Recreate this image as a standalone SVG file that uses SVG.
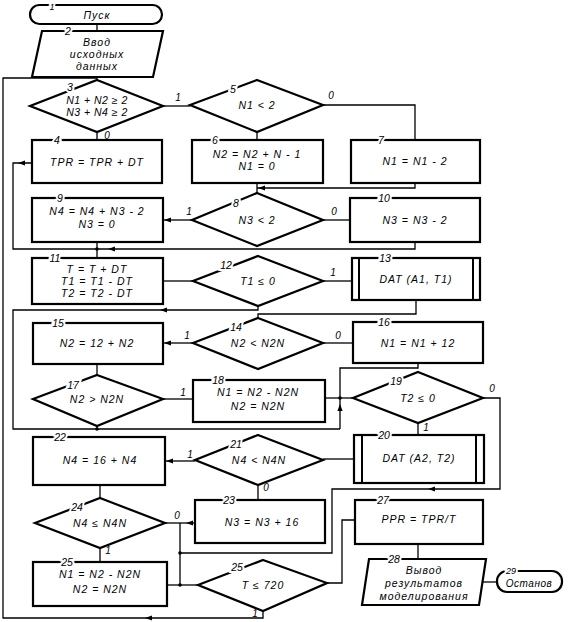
<svg xmlns="http://www.w3.org/2000/svg" xmlns:xlink="http://www.w3.org/1999/xlink" width="573" height="622" viewBox="0 0 573 622">
<style>
.b{fill:#fff;stroke:#000;stroke-width:2.2}
.bi{fill:none;stroke:#000;stroke-width:2}
.c{fill:none;stroke:#000;stroke-width:1.3}
.t{font-family:"Liberation Sans",Arial,sans-serif;font-style:italic;font-size:10.5px;text-anchor:middle;letter-spacing:1px;fill:#000}
.n{font-family:"Liberation Sans",Arial,sans-serif;font-style:italic;font-size:10.5px;text-anchor:middle;fill:#000;stroke:#fff;stroke-width:4;paint-order:stroke}
.y{font-family:"Liberation Sans",Arial,sans-serif;font-style:italic;font-size:10px;text-anchor:middle;fill:#000}
</style>
<defs>
<path id="ah" d="M0,0 L-7,-2.6 L-7,2.6 Z" fill="#000"/>
</defs>
<g id="connectors">
<path class="c" d="M97,24 V31"/>
<path class="c" d="M97,77 V80"/>
<path class="c" d="M163,106 H190"/>
<path class="c" d="M97,132 V140"/>
<path class="c" d="M257,132 V140"/>
<path class="c" d="M323,105 H415 V140"/>
<path class="c" d="M415,183 V188 H257"/>
<path class="c" d="M257,183 V193"/>
<path class="c" d="M192,220 H163"/>
<path class="c" d="M323,220 H350"/>
<path class="c" d="M415,242 V249 H13 V163 H32"/>
<path class="c" d="M97,242 V258"/>
<path class="c" d="M163,281 H193"/>
<path class="c" d="M323,281 H352"/>
<path class="c" d="M416,300 V314 H258 V318"/>
<path class="c" d="M258,306 V310 H13 V429 H340"/>
<path class="c" d="M97,426 V429"/>
<path class="c" d="M418,363 V368 H340 V429"/>
<path class="c" d="M325,398 H353"/>
<path class="c" d="M193,343 H163"/>
<path class="c" d="M323,343 H353"/>
<path class="c" d="M97,364 V375"/>
<path class="c" d="M163,399 H193"/>
<path class="c" d="M483,398 H500 V489 H332 V553 H180"/>
<path class="c" d="M418,423 V435"/>
<path class="c" d="M354,459 H323"/>
<path class="c" d="M195,461 H165"/>
<path class="c" d="M258,485 V500"/>
<path class="c" d="M100,485 V498"/>
<path class="c" d="M165,523 H195"/>
<path class="c" d="M180,523 V585"/>
<path class="c" d="M100,548 V562"/>
<path class="c" d="M167,585 H198"/>
<path class="c" d="M263,611 V618 H3 V78 H97"/>
<path class="c" d="M327,583 H342 V520 H355"/>
<path class="c" d="M418,544 V559"/>
<path class="c" d="M483,582 H497"/>
<use xlink:href="#ah" transform="translate(258,188) rotate(180)"/>
<use xlink:href="#ah" transform="translate(164,220) rotate(180)"/>
<use xlink:href="#ah" transform="translate(108,249) rotate(180)"/>
<use xlink:href="#ah" transform="translate(18,163) rotate(180)"/>
<use xlink:href="#ah" transform="translate(160,310) rotate(180)"/>
<use xlink:href="#ah" transform="translate(164,343) rotate(180)"/>
<use xlink:href="#ah" transform="translate(340,404) rotate(-90)"/>
<use xlink:href="#ah" transform="translate(166,461) rotate(180)"/>
<use xlink:href="#ah" transform="translate(186,523) rotate(180)"/>
<use xlink:href="#ah" transform="translate(145,618) rotate(180)"/>
<use xlink:href="#ah" transform="translate(428,489) rotate(180)"/>
<circle cx="97" cy="249" r="1.8"/>
<circle cx="97" cy="429" r="1.8"/>
<circle cx="340" cy="398" r="1.8"/>
<circle cx="180" cy="553" r="1.8"/>
<circle cx="180" cy="585" r="1.8"/>
<text class="y" x="178" y="101">1</text>
<text class="y" x="107" y="139">0</text>
<text class="y" x="331" y="99">0</text>
<text class="y" x="189" y="215">1</text>
<text class="y" x="334" y="215">0</text>
<text class="y" x="333" y="276">1</text>
<text class="y" x="187" y="339">1</text>
<text class="y" x="338" y="339">0</text>
<text class="y" x="183" y="396">1</text>
<text class="y" x="492" y="392">0</text>
<text class="y" x="426" y="431">1</text>
<text class="y" x="190" y="458">1</text>
<text class="y" x="266" y="491">0</text>
<text class="y" x="177" y="519">0</text>
<text class="y" x="108" y="554">1</text>
<text class="y" x="255" y="617">1</text>
</g>
<g id="n1">
<rect class="b" x="30" y="5" width="132" height="19" rx="9.5"/>
<text class="n" x="52" y="9.5" style="font-size:9px">1</text>
<text class="t" x="97" y="18.5">Пуск</text>
</g>
<g id="n2">
<polygon class="b" points="42,31 163,31 153,77 32,77"/>
<text class="n" x="68" y="35">2</text>
<text class="t" x="97" y="46">Ввод</text>
<text class="t" x="97" y="58">исходных</text>
<text class="t" x="97" y="70">данных</text>
</g>
<g id="n3">
<polygon class="b" points="97,80 163,106 97,132 30,106"/>
<text class="n" x="70" y="91">3</text>
<text class="t" x="97" y="104" style="letter-spacing:0.5px">N1 + N2 ≥ 2</text>
<text class="t" x="97" y="116" style="letter-spacing:0.5px">N3 + N4 ≥ 2</text>
</g>
<g id="n4">
<rect class="b" x="32" y="140" width="130" height="43"/>
<text class="n" x="57" y="144">4</text>
<text class="t" x="97" y="166">TPR = TPR + DT</text>
</g>
<g id="n5">
<polygon class="b" points="257,80 323,105 257,132 190,105"/>
<text class="n" x="233" y="93">5</text>
<text class="t" x="257" y="109">N1 &lt; 2</text>
</g>
<g id="n6">
<rect class="b" x="192" y="140" width="131" height="43"/>
<text class="n" x="215" y="144">6</text>
<text class="t" x="257" y="158">N2 = N2 + N - 1</text>
<text class="t" x="257" y="170">N1 = 0</text>
</g>
<g id="n7">
<rect class="b" x="351" y="140" width="129" height="43"/>
<text class="n" x="381" y="144">7</text>
<text class="t" x="415" y="165">N1 = N1 - 2</text>
</g>
<g id="n8">
<polygon class="b" points="257,193 323,220 257,246 192,220"/>
<text class="n" x="236" y="207">8</text>
<text class="t" x="257" y="224">N3 &lt; 2</text>
</g>
<g id="n9">
<rect class="b" x="32" y="198" width="131" height="44"/>
<text class="n" x="60" y="202">9</text>
<text class="t" x="97" y="215">N4 = N4 + N3 - 2</text>
<text class="t" x="97" y="228">N3 = 0</text>
</g>
<g id="n10">
<rect class="b" x="350" y="198" width="130" height="44"/>
<text class="n" x="384" y="202">10</text>
<text class="t" x="415" y="224">N3 = N3 - 2</text>
</g>
<g id="n11">
<rect class="b" x="32" y="258" width="131" height="46"/>
<text class="n" x="55" y="262">11</text>
<text class="t" x="97" y="273">T = T + DT</text>
<text class="t" x="97" y="285">T1 = T1 - DT</text>
<text class="t" x="97" y="297">T2 = T2 - DT</text>
</g>
<g id="n12">
<polygon class="b" points="258,256 323,281 258,306 193,281"/>
<text class="n" x="226" y="269">12</text>
<text class="t" x="258" y="285">T1 ≤ 0</text>
</g>
<g id="n13">
<rect class="b" x="352" y="258" width="128" height="42"/>
<path class="bi" d="M359,258 V300 M473,258 V300"/>
<text class="n" x="385" y="262">13</text>
<text class="t" x="416" y="283">DAT (A1, T1)</text>
</g>
<g id="n14">
<polygon class="b" points="258,318 323,343 258,369 193,343"/>
<text class="n" x="236" y="331">14</text>
<text class="t" x="258" y="347">N2 &lt; N2N</text>
</g>
<g id="n15">
<rect class="b" x="33" y="323" width="130" height="41"/>
<text class="n" x="58" y="327">15</text>
<text class="t" x="97" y="347">N2 = 12 + N2</text>
</g>
<g id="n16">
<rect class="b" x="353" y="322" width="130" height="41"/>
<text class="n" x="384" y="326">16</text>
<text class="t" x="418" y="347">N1 = N1 + 12</text>
</g>
<g id="n17">
<polygon class="b" points="97,375 163,399 97,426 33,399"/>
<text class="n" x="73" y="389">17</text>
<text class="t" x="97" y="403">N2 &gt; N2N</text>
</g>
<g id="n18">
<rect class="b" x="193" y="380" width="132" height="42"/>
<text class="n" x="218" y="384">18</text>
<text class="t" x="258" y="396">N1 = N2 - N2N</text>
<text class="t" x="258" y="410">N2 = N2N</text>
</g>
<g id="n19">
<polygon class="b" points="418,372 483,398 418,423 353,398"/>
<text class="n" x="396" y="385">19</text>
<text class="t" x="418" y="402">T2 ≤ 0</text>
</g>
<g id="n20">
<rect class="b" x="354" y="435" width="130" height="48"/>
<path class="bi" d="M362,435 V483 M476,435 V483"/>
<text class="n" x="384" y="439">20</text>
<text class="t" x="419" y="462">DAT (A2, T2)</text>
</g>
<g id="n21">
<polygon class="b" points="258,435 323,460 258,485 195,460"/>
<text class="n" x="236" y="448">21</text>
<text class="t" x="259" y="464">N4 &lt; N4N</text>
</g>
<g id="n22">
<rect class="b" x="33" y="437" width="132" height="48"/>
<text class="n" x="60" y="441">22</text>
<text class="t" x="100" y="464">N4 = 16 + N4</text>
</g>
<g id="n23">
<rect class="b" x="195" y="500" width="130" height="43"/>
<text class="n" x="229" y="504">23</text>
<text class="t" x="262" y="526">N3 = N3 + 16</text>
</g>
<g id="n24">
<polygon class="b" points="100,498 165,523 100,548 35,523"/>
<text class="n" x="77" y="511">24</text>
<text class="t" x="100" y="527">N4 ≤ N4N</text>
</g>
<g id="n25">
<rect class="b" x="33" y="562" width="134" height="44"/>
<text class="n" x="67" y="566">25</text>
<text class="t" x="100" y="578">N1 = N2 - N2N</text>
<text class="t" x="100" y="593">N2 = N2N</text>
</g>
<g id="n26">
<polygon class="b" points="263,560 327,583 263,611 198,585"/>
<text class="n" x="237" y="571">25</text>
<text class="t" x="263" y="589">T ≤ 720</text>
</g>
<g id="n27">
<rect class="b" x="355" y="500" width="128" height="44"/>
<text class="n" x="383" y="504">27</text>
<text class="t" x="419" y="523">PPR = TPR/T</text>
</g>
<g id="n28">
<polygon class="b" points="369,559 486,559 479,605 362,605"/>
<text class="n" x="394" y="563">28</text>
<text class="t" x="424" y="574">Вывод</text>
<text class="t" x="424" y="587">результатов</text>
<text class="t" x="424" y="600">моделирования</text>
</g>
<g id="n29">
<rect class="b" x="497" y="571" width="65" height="21" rx="10"/>
<text class="n" x="511" y="574" style="font-size:9px">29</text>
<text class="t" x="529" y="587" style="font-size:10px;letter-spacing:0.5px">Останов</text>
</g>
</svg>
